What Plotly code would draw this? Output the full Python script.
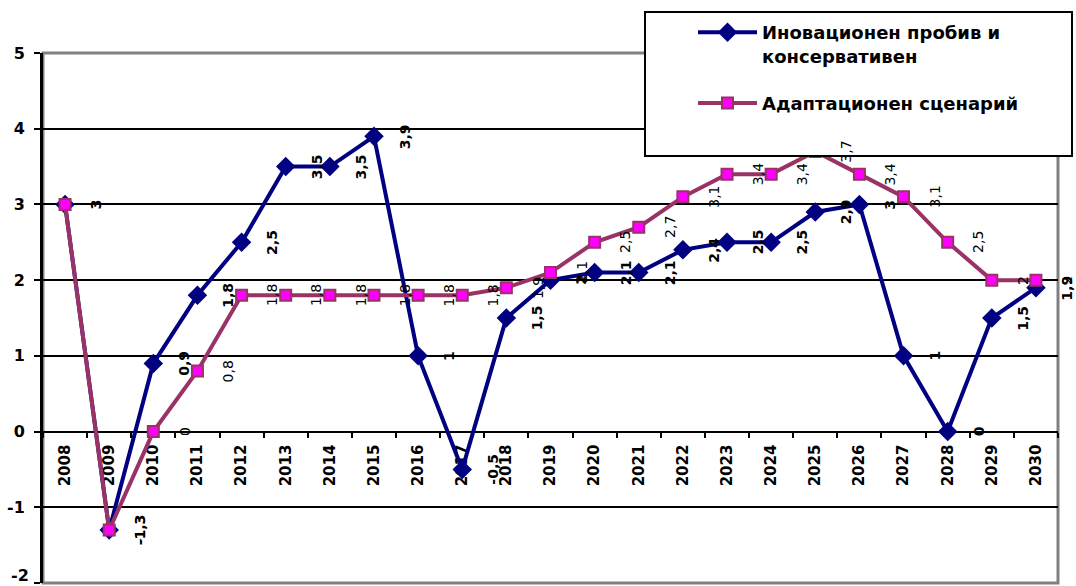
import plotly.graph_objects as go

years = [str(y) for y in range(2008, 2031)]
innovation = [3, -1.3, 0.9, 1.8, 2.5, 3.5, 3.5, 3.9, 1, -0.5, 1.5, 2, 2.1, 2.1, 2.4,
              2.5, 2.5, 2.9, 3, 1, 0, 1.5, 1.9]
adaptation = [3, -1.3, 0, 0.8, 1.8, 1.8, 1.8, 1.8, 1.8, 1.8, 1.9, 2.1, 2.5, 2.7, 3.1,
              3.4, 3.4, 3.7, 3.4, 3.1, 2.5, 2, 2]
name_innov = "Иновационен пробив и<br>консервативен"
name_adapt = "Адаптационен сценарий"
y_ticks = [-2, -1, 0, 1, 2, 3, 4, 5]

FONT = "DejaVu Sans"

def fmt(v):
    return f"{v:g}".replace(".", ",")

fig = go.Figure()
fig.add_trace(go.Scatter(
    x=years, y=innovation, name=name_innov, mode="lines+markers",
    line=dict(color="#000080", width=4),
    marker=dict(symbol="diamond", size=15, color="#000080"),
    legendgroup="a",
))
fig.add_trace(go.Scatter(
    x=years, y=adaptation, name=name_adapt, mode="lines+markers",
    line=dict(color="#993366", width=4),
    marker=dict(symbol="square", size=11, color="#FF00FF",
                line=dict(color="#993366", width=2)),
    legendgroup="b",
))

annotations = []
for i, v in enumerate(adaptation):
    annotations.append(dict(x=i, y=v, xref="x", yref="y", text=fmt(v), showarrow=False,
                            textangle=-90, xshift=31,
                            font=dict(family=FONT, size=14, color="black")))
for i, v in enumerate(innovation):
    annotations.append(dict(x=i, y=v, xref="x", yref="y", text="<b>" + fmt(v) + "</b>",
                            showarrow=False, textangle=-90, xshift=31,
                            font=dict(family=FONT, size=14, color="black")))
# lowest y tick label (sits at the bottom edge of the page, as in the original)
annotations.append(dict(x=0, xref="paper", y=y_ticks[0], yref="y", text="<b>%d</b>" % y_ticks[0],
                        showarrow=False, xanchor="right", yanchor="bottom", xshift=-13,
                        yshift=-3, borderpad=0,
                        font=dict(family=FONT, size=16, color="black")))

L, R, T, B = 43, 18, 53, 3
W, H = 1076, 586
pw, ph = W - L - R, H - T - B

def px_x(p):
    return (p - L) / pw

def px_y(p):
    return (H - B - p) / ph

shapes = [
    dict(type="rect", xref="paper", yref="paper", x0=0, x1=1, y0=0, y1=1,
         line=dict(color="#808080", width=3), layer="between"),
    dict(type="rect", xref="paper", yref="paper",
         x0=px_x(645), x1=px_x(1072), y0=px_y(156), y1=px_y(12),
         line=dict(color="black", width=2), fillcolor="white", layer="above"),
]

fig.update_layout(
    width=W, height=H,
    margin=dict(l=L, r=R, t=T, b=B, autoexpand=False),
    plot_bgcolor="white", paper_bgcolor="white",
    font=dict(family=FONT, color="black"),
    showlegend=True,
    legend=dict(x=px_x(693), y=px_y(14), xanchor="left", yanchor="top",
                bgcolor="rgba(0,0,0,0)", borderwidth=0,
                font=dict(family=FONT, size=18, color="black", weight="bold"),
                valign="top", itemwidth=59, tracegroupgap=21,
                traceorder="grouped"),
    annotations=annotations,
    shapes=shapes,
    xaxis=dict(
        type="category", categoryorder="array", categoryarray=years,
        range=[-0.5, len(years) - 0.5],
        anchor="free", position=2 / 7,
        showline=True, linecolor="black", linewidth=2,
        ticks="outside", ticklen=5, tickwidth=2, tickcolor="black",
        tickson="boundaries", tickangle=-90, ticklabelstandoff=6,
        tickfont=dict(family=FONT, size=15, color="black", weight="bold"),
        showgrid=False, layer="below traces",
    ),
    yaxis=dict(
        range=[-2, 5], tickvals=y_ticks, ticktext=[str(v) for v in y_ticks],
        showline=True, linecolor="black", linewidth=3,
        ticks="outside", ticklen=6, tickwidth=2, tickcolor="black",
        showgrid=True, gridcolor="black", gridwidth=2, zeroline=False,
        tickfont=dict(family=FONT, size=16, color="black", weight="bold"),
        ticklabelstandoff=6,
    ),
)

fig.write_html("out.html", config={"displayModeBar": False},
               post_script="document.body.style.margin='0px';document.body.style.padding='0px';")
